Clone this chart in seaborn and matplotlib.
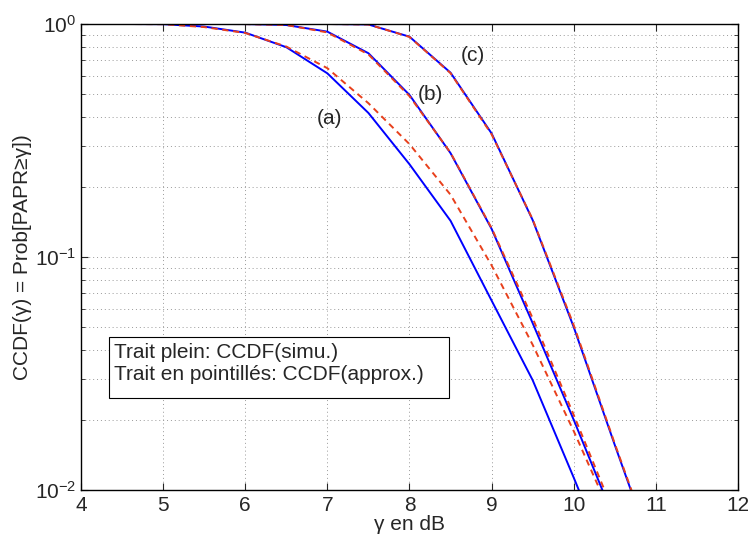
import numpy as np
import pandas as pd
import matplotlib
matplotlib.use("Agg")
import matplotlib.pyplot as plt
from matplotlib.patches import Rectangle
import seaborn as sns

# gamma en dB (pas de 0.5 dB)
gamma_db = [4, 4.5, 5, 5.5, 6, 6.5, 7, 7.5, 8, 8.5, 9, 9.5, 10, 10.5, 11]

# CCDF simulees (trait plein)
simu_a = [1.0, 1.0, 0.998, 0.975, 0.918, 0.795, 0.614, 0.415, 0.250, 0.143, 0.065, 0.0296, 0.0113, 0.0042, 0.0015]
simu_b = [1.0, 1.0, 1.0, 1.0, 0.999, 0.99, 0.927, 0.749, 0.496, 0.279, 0.132, 0.052, 0.020, 0.0074, 0.0025]
simu_c = [1.0, 1.0, 1.0, 1.0, 1.0, 1.0, 1.0, 0.995, 0.882, 0.618, 0.339, 0.144, 0.050, 0.0156, 0.005]

# CCDF approchees (pointilles)
approx_a = [1.0, 1.0, 0.998, 0.97, 0.915, 0.80, 0.646, 0.457, 0.305, 0.185, 0.092, 0.042, 0.0179, 0.0072, 0.0025]
approx_b = [1.0, 1.0, 1.0, 1.0, 0.999, 0.99, 0.92, 0.74, 0.49, 0.28, 0.133, 0.0546, 0.021, 0.0078, 0.0027]
approx_c = [1.0, 1.0, 1.0, 1.0, 1.0, 1.0, 1.0, 0.995, 0.88, 0.615, 0.336, 0.145, 0.051, 0.0158, 0.0051]

curve_labels = ["(a)", "(b)", "(c)"]
label_pos = [(7.03, 0.394), (8.25, 0.496), (8.77, 0.736)]
note_lines = ["Trait plein: CCDF(simu.)", "Trait en pointillés: CCDF(approx.)"]

sns.set_style("ticks")
plt.rcParams["font.family"] = ["Liberation Sans", "DejaVu Sans"]
plt.rcParams["mathtext.fontset"] = "custom"
plt.rcParams["mathtext.rm"] = "Liberation Sans"
plt.rcParams["mathtext.it"] = "Liberation Sans:italic"

fig = plt.figure(figsize=(7.48, 5.39), dpi=100)
ax = fig.add_axes([0.1083, 0.0909, 0.8783, 0.8646])

blue = "#0000ff"
red = "#e8401c"
for simu, approx in [(simu_a, approx_a), (simu_b, approx_b), (simu_c, approx_c)]:
    sns.lineplot(x=gamma_db, y=simu, ax=ax, color=blue, lw=1.4)
    sns.lineplot(x=gamma_db, y=approx, ax=ax, color=red, lw=1.4, dashes=False,
                 linestyle=(0, (3.2, 2.4)))

ax.set_yscale("log")
ax.set_xlim(4, 12)
ax.set_ylim(1e-2, 1)
ax.set_xticks(range(4, 13))
ax.set_yticks([1e-2, 1e-1, 1])
ax.set_yticklabels([r"$10^{-2}$", r"$10^{-1}$", r"$10^{0}$"])

ax.grid(True, which="major", axis="x", linestyle=(0, (1, 3)), color="#999999", lw=0.7)
ax.grid(True, which="both", axis="y", linestyle=(0, (1, 3)), color="#999999", lw=0.7)
ax.tick_params(which="both", direction="in", top=True, right=True, labelsize=15)
ax.tick_params(axis="x", pad=4.5)
ax.tick_params(which="major", length=5, width=0.8)
ax.tick_params(which="minor", length=3, width=0.6)
for s in ax.spines.values():
    s.set_linewidth(1.0)
    s.set_color("black")

for lab, (px, py) in zip(curve_labels, label_pos):
    ax.text(px, py, lab, fontsize=15, ha="center", va="center")

# cadre de texte facon matlab
ax.add_patch(Rectangle((0.0426, 0.1974), 0.5174, 0.1309, transform=ax.transAxes,
                       fc="white", ec="black", lw=0.8, zorder=5))
for yy, line in zip([0.296, 0.247], note_lines):
    ax.text(0.05, yy, line, transform=ax.transAxes, fontsize=15,
            ha="left", va="center", zorder=6)

ax.set_xlabel("γ en dB", fontsize=15, labelpad=0)
ax.set_ylabel("CCDF(γ) = Prob[PAPR≥γ])", fontsize=15, labelpad=2)

fig.savefig("out.png", dpi=100)
